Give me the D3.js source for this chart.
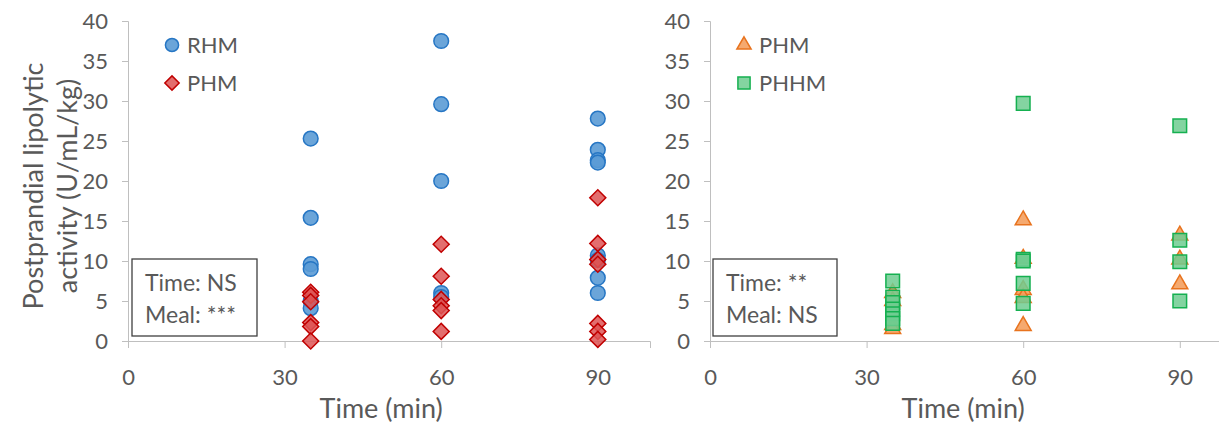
<!DOCTYPE html>
<html><head><meta charset="utf-8">
<script src="https://cdn.jsdelivr.net/npm/d3@7"></script>
<style>
body{margin:0;background:#fff}
svg text{font-family:Lato,"Open Sans",sans-serif;fill:#595959}
</style>
</head><body>
<svg id="c" width="1219" height="423"></svg>
<script>
// ---- data ----
const xTickValues = [0, 30, 60, 90];
const yTickValues = [0, 5, 10, 15, 20, 25, 30, 35, 40];
const xLabel = "Time (min)";
const yLabelLines = ["Postprandial lipolytic", "activity (U/mL/kg)"];

// left panel
const rhmLeft = [
  [35, 25.3], [35, 15.4], [35, 9.6], [35, 9.0], [35, 5.0], [35, 4.1],
  [60, 37.5], [60, 29.6], [60, 20.0], [60, 6.0], [60, 5.5],
  [90, 27.8], [90, 23.9], [90, 22.6], [90, 22.3], [90, 10.7], [90, 10.1], [90, 7.9], [90, 6.0]
];
const phmLeft = [
  [35, 6.1], [35, 5.7], [35, 4.9], [35, 2.3], [35, 1.8], [35, 0],
  [60, 12.1], [60, 8.1], [60, 5.2], [60, 4.4], [60, 3.8], [60, 1.2],
  [90, 17.9], [90, 12.2], [90, 10.2], [90, 9.6], [90, 2.2], [90, 1.2], [90, 0.2]
];
// right panel
const phmRight = [
  [35, 6.0], [35, 5.0], [35, 2.0], [35, 1.5],
  [60, 15.1], [60, 10.3], [60, 6.4], [60, 5.4], [60, 1.9],
  [90, 13.2], [90, 10.2], [90, 7.1]
];
const phhmRight = [
  [35, 7.5], [35, 5.5], [35, 4.8], [35, 4.0], [35, 3.4], [35, 2.8], [35, 2.2],
  [60, 29.7], [60, 10.2], [60, 10.0], [60, 7.2], [60, 4.7],
  [90, 26.9], [90, 12.6], [90, 9.9], [90, 5.0]
];
const leftLegend = ["RHM", "PHM"];
const rightLegend = ["PHM", "PHHM"];
const leftStats = ["Time: NS", "Meal: ***"];
const rightStats = ["Time: **", "Meal: NS"];

// ---- styles ----
const styles = {
  circle: {fill: "rgba(91,155,213,0.9)", stroke: "#2676C4", type: d3.symbolCircle, size: 170, rot: 0},
  diamond: {fill: "rgba(222,85,85,0.85)", stroke: "#C00000", type: d3.symbolSquare, size: 128, rot: 45},
  triangle: {fill: "rgba(244,160,95,0.9)", stroke: "#E8731E", type: d3.symbolTriangle, size: 110, rot: 0},
  square: {fill: "rgba(110,205,145,0.85)", stroke: "#15B050", type: d3.symbolSquare, size: 185, rot: 0}
};

const svg = d3.select("#c");
const axisColor = "#BFBFBF";

function panel(x0, series, legendNames, legendStyles, stats, box, legendX) {
  const x = d3.scaleLinear().domain([0, 100]).range([x0, x0 + 522]);
  const y = d3.scaleLinear().domain([0, 40]).range([341, 21]);
  const g = svg.append("g");

  const yAxis = g.append("g").attr("transform", `translate(${x0},0)`)
    .call(d3.axisLeft(y).tickValues(yTickValues).tickSize(6).tickPadding(14));
  const xAxis = g.append("g").attr("transform", `translate(0,${y(0)})`)
    .call(d3.axisBottom(x).tickValues(xTickValues).tickSize(7).tickPadding(21));
  [yAxis, xAxis].forEach(a => {
    a.select(".domain").attr("stroke", axisColor);
    a.selectAll(".tick line").attr("stroke", axisColor);
    a.selectAll("text").style("font-size", "22px").attr("fill", "#595959").style("font-family", "Lato");
  });

  g.append("text").attr("x", x(48.5)).attr("y", 418).attr("text-anchor", "middle")
    .style("font-size", "27px").text(xLabel);

  // stats box
  g.append("rect").attr("x", box[0]).attr("y", 259).attr("width", box[1]).attr("height", 77)
    .attr("fill", "#fff").attr("stroke", "#404040").attr("stroke-width", 1.3);
  stats.forEach((s, i) => g.append("text").attr("x", box[0] + 13).attr("y", 291 + i * 32)
    .style("font-size", "23px").text(s));

  // points
  series.forEach(([data, st]) => {
    g.append("g").selectAll("path").data(data).join("path")
      .attr("d", d3.symbol().type(st.type).size(st.size))
      .attr("transform", d => `translate(${x(d[0])},${y(d[1])}) rotate(${st.rot})`)
      .attr("fill", st.fill).attr("stroke", st.stroke).attr("stroke-width", 1.5);
  });

  // legend
  legendNames.forEach((n, i) => {
    const st = legendStyles[i];
    const cy = 45 + i * 38;
    g.append("path").attr("d", d3.symbol().type(st.type).size(st.size * 0.8))
      .attr("transform", `translate(${legendX},${cy}) rotate(${st.rot})`)
      .attr("fill", st.fill).attr("stroke", st.stroke).attr("stroke-width", 1.5);
    g.append("text").attr("x", legendX + 15).attr("y", cy + 8).style("font-size", "22px").text(n);
  });
}

panel(128, [[rhmLeft, styles.circle], [phmLeft, styles.diamond]], leftLegend,
  [styles.circle, styles.diamond], leftStats, [132, 125], 172);
panel(710, [[phmRight, styles.triangle], [phhmRight, styles.square]], rightLegend,
  [styles.triangle, styles.square], rightStats, [713, 124], 744);

// y label
const yl = svg.append("text").attr("transform", "translate(0,186) rotate(-90)")
  .attr("text-anchor", "middle").style("font-size", "27px");
yLabelLines.forEach((l, i) => yl.append("tspan").attr("x", 0).attr("y", 43 + i * 34).text(l));
</script>
</body></html>
